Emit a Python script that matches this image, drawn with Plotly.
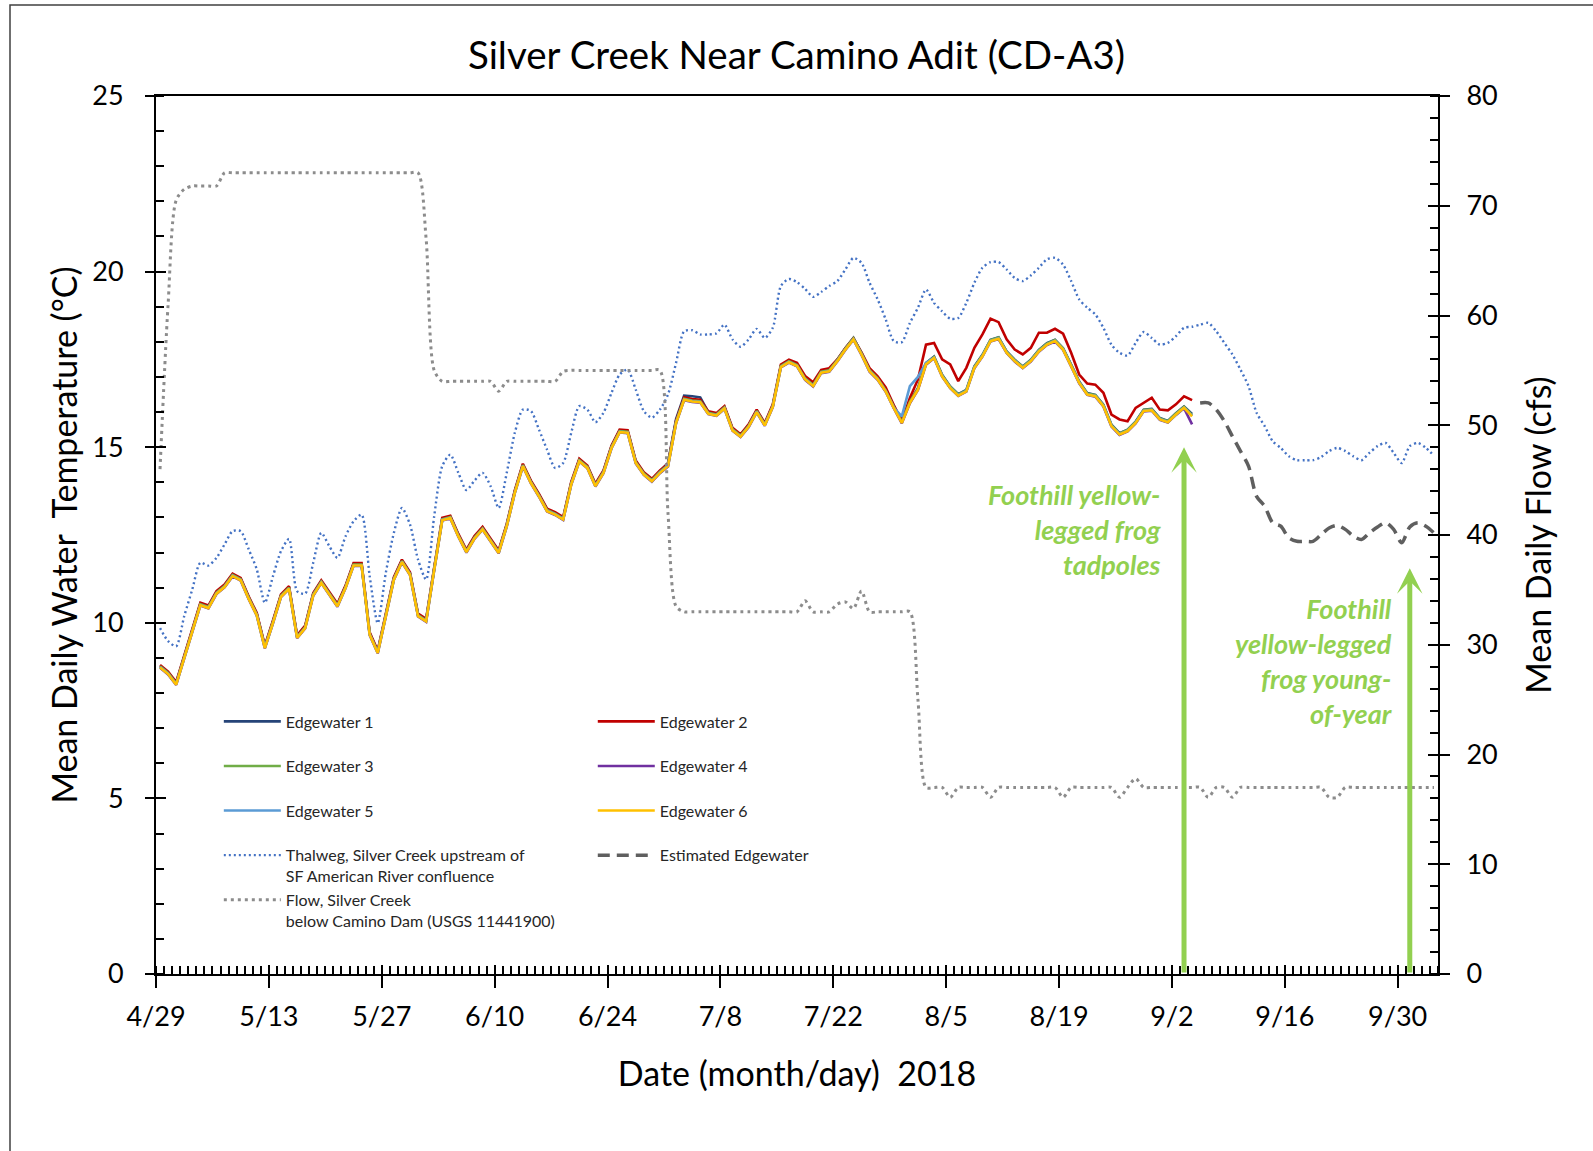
import pandas as pd
import plotly.graph_objects as go

# ---------------- data ----------------
# daily means, first value is 4/29/2018 (plotted at mid-day)
dates = pd.date_range("2018-04-29 12:00", periods=159, freq="D").strftime("%Y-%m-%d %H:%M").tolist()

edgewater_1 = [
    8.77, 8.58, 8.28, 9.04, 9.80, 10.54, 10.46, 10.87, 11.06, 11.37,
    11.25, 10.72, 10.25, 9.32, 10.03, 10.78, 11.01, 9.61, 9.89, 10.82,
    11.18, 10.84, 10.51, 11.03, 11.67, 11.67, 9.70, 9.18, 10.23, 11.27,
    11.77, 11.41, 10.23, 10.08, 11.54, 12.96, 13.02, 12.50, 12.05, 12.44,
    12.70, 12.36, 12.03, 12.79, 13.74, 14.50, 14.02, 13.64, 13.22, 13.12,
    12.98, 13.98, 14.64, 14.45, 13.93, 14.31, 15.02, 15.47, 15.45, 14.59,
    14.26, 14.07, 14.31, 14.55, 15.80, 16.47, 16.45, 16.42, 16.00, 15.94,
    16.14, 15.52, 15.34, 15.62, 16.04, 15.66, 16.19, 17.32, 17.46, 17.35,
    16.97, 16.78, 17.16, 17.20, 17.49, 17.82, 18.11, 17.68, 17.20, 16.97,
    16.63, 16.16, 15.73, 16.30, 16.68, 17.40, 17.58, 17.06, 16.73, 16.51,
    16.63, 17.30, 17.63, 18.06, 18.13, 17.73, 17.49, 17.30, 17.49, 17.77,
    17.96, 18.06, 17.82, 17.35, 16.87, 16.54, 16.49, 16.21, 15.64, 15.40,
    15.50, 15.73, 16.07, 16.09, 15.83, 15.75, 15.97, 16.16, 15.95]

edgewater_2 = [
    8.80, 8.61, 8.31, 9.07, 9.83, 10.57, 10.49, 10.90, 11.09, 11.40,
    11.28, 10.75, 10.28, 9.35, 10.06, 10.81, 11.04, 9.64, 9.92, 10.85,
    11.21, 10.87, 10.54, 11.06, 11.70, 11.70, 9.73, 9.21, 10.26, 11.30,
    11.80, 11.44, 10.26, 10.11, 11.57, 12.99, 13.05, 12.53, 12.08, 12.47,
    12.73, 12.39, 12.06, 12.82, 13.77, 14.53, 14.05, 13.67, 13.25, 13.15,
    13.01, 14.01, 14.67, 14.48, 13.96, 14.34, 15.05, 15.50, 15.48, 14.62,
    14.29, 14.10, 14.34, 14.53, 15.76, 16.42, 16.37, 16.35, 16.02, 15.97,
    16.17, 15.55, 15.37, 15.65, 16.07, 15.69, 16.22, 17.35, 17.49, 17.40,
    17.03, 16.85, 17.20, 17.25, 17.50, 17.82, 18.10, 17.70, 17.25, 17.02,
    16.70, 16.20, 15.75, 16.40, 16.93, 17.92, 17.97, 17.50, 17.36, 16.88,
    17.26, 17.83, 18.21, 18.66, 18.56, 18.07, 17.78, 17.64, 17.83, 18.26,
    18.26, 18.37, 18.23, 17.69, 17.07, 16.81, 16.78, 16.55, 15.93, 15.79,
    15.74, 16.12, 16.26, 16.41, 16.07, 16.05, 16.22, 16.45, 16.34]

edgewater_3 = [
    8.76, 8.57, 8.27, 9.03, 9.79, 10.53, 10.45, 10.86, 11.05, 11.36,
    11.24, 10.71, 10.24, 9.31, 10.02, 10.77, 11.00, 9.60, 9.88, 10.81,
    11.17, 10.83, 10.50, 11.02, 11.66, 11.66, 9.69, 9.17, 10.22, 11.26,
    11.76, 11.40, 10.22, 10.07, 11.53, 12.95, 13.01, 12.49, 12.04, 12.43,
    12.69, 12.35, 12.02, 12.78, 13.73, 14.49, 14.01, 13.63, 13.21, 13.11,
    12.97, 13.97, 14.63, 14.44, 13.92, 14.30, 15.01, 15.46, 15.44, 14.58,
    14.25, 14.06, 14.30, 14.49, 15.72, 16.38, 16.33, 16.31, 15.98, 15.93,
    16.13, 15.51, 15.33, 15.61, 16.03, 15.65, 16.18, 17.31, 17.45, 17.34,
    16.96, 16.77, 17.15, 17.19, 17.48, 17.81, 18.10, 17.67, 17.19, 16.96,
    16.62, 16.15, 15.72, 16.29, 16.67, 17.39, 17.57, 17.05, 16.72, 16.50,
    16.62, 17.29, 17.62, 18.05, 18.12, 17.72, 17.48, 17.29, 17.48, 17.76,
    17.95, 18.05, 17.81, 17.34, 16.86, 16.53, 16.48, 16.20, 15.63, 15.39,
    15.49, 15.72, 16.06, 16.08, 15.82, 15.74, 15.96, 16.15, 15.91]

edgewater_4 = [
    8.72, 8.53, 8.23, 8.99, 9.75, 10.49, 10.41, 10.82, 11.01, 11.32,
    11.20, 10.67, 10.20, 9.27, 9.98, 10.73, 10.96, 9.56, 9.84, 10.77,
    11.13, 10.79, 10.46, 10.98, 11.62, 11.62, 9.65, 9.13, 10.18, 11.22,
    11.72, 11.36, 10.18, 10.03, 11.49, 12.91, 12.97, 12.45, 12.00, 12.39,
    12.65, 12.31, 11.98, 12.74, 13.69, 14.45, 13.97, 13.59, 13.17, 13.07,
    12.93, 13.93, 14.59, 14.40, 13.88, 14.26, 14.97, 15.42, 15.40, 14.54,
    14.21, 14.02, 14.26, 14.45, 15.68, 16.34, 16.29, 16.27, 15.94, 15.89,
    16.09, 15.47, 15.29, 15.57, 15.99, 15.61, 16.14, 17.27, 17.41, 17.30,
    16.92, 16.73, 17.11, 17.15, 17.44, 17.77, 18.06, 17.63, 17.15, 16.92,
    16.58, 16.11, 15.68, 16.25, 16.63, 17.35, 17.53, 17.01, 16.68, 16.46,
    16.58, 17.25, 17.58, 18.01, 18.08, 17.68, 17.44, 17.25, 17.44, 17.72,
    17.91, 18.01, 17.77, 17.30, 16.82, 16.49, 16.44, 16.16, 15.59, 15.35,
    15.45, 15.68, 16.02, 16.04, 15.78, 15.70, 15.92, 16.11, 15.65]

edgewater_5 = [
    8.74, 8.55, 8.25, 9.01, 9.77, 10.51, 10.43, 10.84, 11.03, 11.34,
    11.22, 10.69, 10.22, 9.29, 10.00, 10.75, 10.98, 9.58, 9.86, 10.79,
    11.15, 10.81, 10.48, 11.00, 11.64, 11.64, 9.67, 9.15, 10.20, 11.24,
    11.74, 11.38, 10.20, 10.05, 11.51, 12.93, 12.99, 12.47, 12.02, 12.41,
    12.67, 12.33, 12.00, 12.76, 13.71, 14.47, 13.99, 13.61, 13.19, 13.09,
    12.95, 13.95, 14.61, 14.42, 13.90, 14.28, 14.99, 15.44, 15.42, 14.56,
    14.23, 14.04, 14.28, 14.47, 15.70, 16.36, 16.31, 16.29, 15.96, 15.91,
    16.11, 15.49, 15.31, 15.59, 16.01, 15.63, 16.16, 17.29, 17.43, 17.32,
    16.94, 16.75, 17.13, 17.17, 17.46, 17.79, 18.08, 17.65, 17.17, 16.94,
    16.60, 16.13, 15.88, 16.74, 17.00, 17.40, 17.55, 17.03, 16.70, 16.48,
    16.60, 17.27, 17.60, 18.03, 18.10, 17.70, 17.46, 17.27, 17.46, 17.74,
    17.93, 18.03, 17.79, 17.32, 16.84, 16.51, 16.46, 16.18, 15.61, 15.37,
    15.47, 15.70, 16.04, 16.06, 15.80, 15.72, 15.94, 16.13, 15.89]

edgewater_6 = [
    8.73, 8.54, 8.24, 9.00, 9.76, 10.50, 10.42, 10.83, 11.02, 11.33,
    11.21, 10.68, 10.21, 9.28, 9.99, 10.74, 10.97, 9.57, 9.85, 10.78,
    11.14, 10.80, 10.47, 10.99, 11.63, 11.63, 9.66, 9.14, 10.19, 11.23,
    11.73, 11.37, 10.19, 10.04, 11.50, 12.92, 12.98, 12.46, 12.01, 12.40,
    12.66, 12.32, 11.99, 12.75, 13.70, 14.46, 13.98, 13.60, 13.18, 13.08,
    12.94, 13.94, 14.60, 14.41, 13.89, 14.27, 14.98, 15.43, 15.41, 14.55,
    14.22, 14.03, 14.27, 14.46, 15.69, 16.35, 16.30, 16.28, 15.95, 15.90,
    16.10, 15.48, 15.30, 15.58, 16.00, 15.62, 16.15, 17.28, 17.42, 17.31,
    16.93, 16.74, 17.12, 17.16, 17.45, 17.78, 18.07, 17.64, 17.16, 16.93,
    16.59, 16.12, 15.69, 16.26, 16.64, 17.36, 17.54, 17.02, 16.69, 16.47,
    16.59, 17.26, 17.59, 18.02, 18.09, 17.69, 17.45, 17.26, 17.45, 17.73,
    17.92, 18.02, 17.78, 17.31, 16.83, 16.50, 16.45, 16.17, 15.60, 15.36,
    15.46, 15.69, 16.03, 16.05, 15.79, 15.71, 15.93, 16.12, 15.88]

# estimated edgewater, 9/7 .. 10/4
estimated_edgewater = [
    16.26, 16.26, 16.07, 15.74, 15.31, 14.89, 14.46, 13.60, 13.32, 12.85,
    12.75, 12.42, 12.32, 12.32, 12.32, 12.51, 12.70, 12.77, 12.66, 12.47,
    12.37, 12.56, 12.73, 12.85, 12.66, 12.28, 12.73, 12.85, 12.75, 12.56]

thalweg = [
    9.85, 9.48, 9.33, 10.19, 10.95, 11.71, 11.63, 11.85, 12.23, 12.61,
    12.61, 12.09, 11.52, 10.57, 11.32, 12.04, 12.39, 10.90, 10.83, 11.71,
    12.56, 12.18, 11.85, 12.46, 12.89, 13.08, 11.33, 9.99, 11.42, 12.56,
    13.27, 12.80, 11.80, 11.23, 13.03, 14.46, 14.79, 14.27, 13.78, 14.05,
    14.27, 13.89, 13.27, 14.27, 15.41, 16.07, 16.03, 15.50, 14.93, 14.41,
    14.55, 15.41, 16.17, 16.07, 15.71, 15.98, 16.55, 17.07, 17.21, 16.64,
    16.03, 15.84, 16.07, 16.50, 17.40, 18.30, 18.33, 18.21, 18.21, 18.24,
    18.49, 18.07, 17.86, 18.07, 18.37, 18.11, 18.40, 19.59, 19.79, 19.70,
    19.51, 19.28, 19.42, 19.59, 19.73, 20.06, 20.39, 20.25, 19.68, 19.21,
    18.64, 18.02, 17.99, 18.54, 18.97, 19.49, 19.11, 18.87, 18.66, 18.68,
    19.11, 19.68, 20.11, 20.27, 20.27, 20.06, 19.82, 19.73, 19.89, 20.11,
    20.35, 20.39, 20.20, 19.73, 19.21, 18.97, 18.78, 18.40, 17.92, 17.69,
    17.61, 17.97, 18.28, 18.11, 17.92, 17.97, 18.16, 18.40, 18.43, 18.49,
    18.54, 18.30, 17.97, 17.64, 17.21, 16.74, 15.98, 15.60, 15.17, 14.98,
    14.74, 14.63, 14.63, 14.63, 14.72, 14.89, 14.98, 14.89, 14.74, 14.63,
    14.84, 15.03, 15.12, 14.84, 14.55, 15.03, 15.12, 14.98, 14.76]

flow_cfs = [
    46, 61, 70.5, 71.5, 71.8, 71.8, 71.8, 71.8, 73, 73,
    73, 73, 73, 73, 73, 73, 73, 73, 73, 73,
    73, 73, 73, 73, 73, 73, 73, 73, 73, 73,
    73, 73, 73, 67, 55, 54, 54, 54, 54, 54,
    54, 54, 53.1, 54, 54, 54, 54, 54, 54, 54,
    54.9, 55, 55, 55, 55, 55, 55, 55, 55, 55,
    55, 55, 55, 42, 33.5, 33, 33, 33, 33, 33,
    33, 33, 33, 33, 33, 33, 33, 33, 33, 33,
    34, 33, 33, 33, 33.7, 33.9, 33.3, 34.9, 33, 33,
    33, 33, 33, 33, 25, 17, 17, 17, 16.1, 17,
    17, 17, 17, 16.1, 17, 17, 17, 17, 17, 17,
    17, 17, 16.1, 17, 17, 17, 17, 17, 17, 16.1,
    17, 17.8, 17, 17, 17, 17, 17, 17, 17, 17,
    16.1, 17, 17, 16.1, 17, 17, 17, 17, 17, 17,
    17, 17, 17, 17, 17, 16.1, 16.1, 17, 17, 17,
    17, 17, 17, 17, 17, 17, 17, 17, 17]

arrow_dates = ["2018-09-03 12:00", "2018-10-01 12:00"]
arrow_tops = [15.0, 11.55]
arrow_labels = ["Foothill yellow-<br>legged frog<br>tadpoles",
                "Foothill<br>yellow-legged<br>frog young-<br>of-year"]

x_range = ["2018-04-29", "2018-10-05"]

# ---------------- figure ----------------
FONT = "Lato"
fig = go.Figure()

n_ew = len(edgewater_1)
ew_specs = [
    ("Edgewater 1", edgewater_1, "#264478", "legend", 1),
    ("Edgewater 2", edgewater_2, "#C00000", "legend2", 1),
    ("Edgewater 3", edgewater_3, "#70AD47", "legend", 2),
    ("Edgewater 4", edgewater_4, "#7030A0", "legend2", 2),
    ("Edgewater 5", edgewater_5, "#5B9BD5", "legend", 3),
    ("Edgewater 6", edgewater_6, "#FFC000", "legend2", 3),
]
for name, vals, color, leg, rank in ew_specs:
    fig.add_trace(go.Scatter(
        x=dates[:len(vals)], y=vals, name=name + "<br> ", mode="lines",
        line=dict(color=color, width=2.6), legend=leg, legendrank=rank))

fig.add_trace(go.Scatter(
    x=dates[n_ew:n_ew + len(estimated_edgewater)], y=estimated_edgewater,
    name="Estimated Edgewater<br> ", mode="lines",
    line=dict(color="#5F5F5F", width=3.5, dash="12px,7px", shape="spline", smoothing=0.8),
    legend="legend2", legendrank=4))

fig.add_trace(go.Scatter(
    x=dates[:len(thalweg)], y=thalweg,
    name="Thalweg, Silver Creek upstream of<br>SF American River confluence", mode="lines",
    line=dict(color="#4472C4", width=2.4, dash="2px,3px", shape="spline", smoothing=0.7),
    legend="legend", legendrank=4))

fig.add_trace(go.Scatter(
    x=dates[:len(flow_cfs)], y=flow_cfs, yaxis="y2",
    name="Flow, Silver Creek<br>below Camino Dam (USGS 11441900)", mode="lines",
    line=dict(color="#8C8C8C", width=3, dash="3px,4px", shape="spline", smoothing=0.8),
    legend="legend", legendrank=5))

# empty helper traces so that the inner halves of the major ticks are drawn
fig.add_trace(go.Scatter(x=[None], y=[None], xaxis="x2", yaxis="y3", showlegend=False, hoverinfo="skip"))
fig.add_trace(go.Scatter(x=[None], y=[None], xaxis="x2", yaxis="y4", showlegend=False, hoverinfo="skip"))

# arrows + labels
for d, top in zip(arrow_dates, arrow_tops):
    fig.add_annotation(x=d, y=top, ax=d, ay=0, xref="x", yref="y", axref="x", ayref="y",
                       text="", showarrow=True, arrowhead=3, arrowsize=0.85,
                       arrowwidth=5, arrowcolor="#92D050")
label_pos = [(0.7855, 0.5062), (0.9662, 0.3563)]
for txt, (px, py) in zip(arrow_labels, label_pos):
    fig.add_annotation(x=px, y=py, xref="paper", yref="paper", xanchor="right", yanchor="middle",
                       align="right", showarrow=False, text=txt,
                       font=dict(family=FONT, size=27, color="#92D050", weight="bold", style="italic"))

tickfont = dict(family=FONT, size=27, color="black")
titlefont = dict(family=FONT, size=34, color="black")
DAY = 86400000

W, H = 1593, 1151
fig.update_layout(
    width=W, height=H,
    margin=dict(l=156, r=155, t=96, b=177, autoexpand=False),
    paper_bgcolor="white", plot_bgcolor="white",
    title=dict(text="Silver Creek Near Camino Adit (CD-A3)", x=0.5, xanchor="center",
               y=1 - 56 / H, yanchor="middle", yref="container",
               font=dict(family=FONT, size=38.5, color="black")),
    xaxis=dict(type="date", range=x_range, tick0="2018-04-29", dtick=14 * DAY,
               tickformat="%-m/%-d", ticks="outside", ticklen=12, tickwidth=2, tickcolor="black",
               showline=True, linewidth=2, linecolor="black", mirror=True, automargin=False,
               showgrid=False, zeroline=False, tickfont=tickfont, ticklabelstandoff=6,
               minor=dict(dtick=DAY, tick0="2018-04-29", ticks="inside", ticklen=8, tickwidth=1.5,
                          tickcolor="black", showgrid=False),
               title=dict(text="Date (month/day)\u00a0 2018", font=titlefont, standoff=31)),
    xaxis2=dict(type="date", range=x_range, overlaying="x", anchor="y", tick0="2018-04-29",
                dtick=14 * DAY, ticks="inside", ticklen=9, tickwidth=2, tickcolor="black",
                showticklabels=False, showline=False, showgrid=False, zeroline=False,
                automargin=False),
    yaxis=dict(range=[0, 25], dtick=5, ticks="outside", ticklen=9, tickwidth=2, tickcolor="black",
               showline=True, linewidth=2, linecolor="black", showgrid=False, zeroline=False,
               tickfont=tickfont, ticklabelstandoff=16, automargin=False,
               minor=dict(dtick=1, ticks="inside", ticklen=8, tickwidth=1.5, tickcolor="black",
                          showgrid=False),
               title=dict(text="Mean Daily Water\u00a0 Temperature (°C)", font=titlefont, standoff=4)),
    yaxis2=dict(range=[0, 80], dtick=10, overlaying="y", side="right", anchor="x",
                ticks="outside", ticklen=10, tickwidth=2, tickcolor="black",
                showline=True, linewidth=2, linecolor="black", showgrid=False, zeroline=False,
                tickfont=tickfont, ticklabelstandoff=11, automargin=False,
                minor=dict(dtick=2, ticks="inside", ticklen=8, tickwidth=1.5, tickcolor="black",
                           showgrid=False),
                title=dict(text="Mean Daily Flow (cfs)", font=titlefont, standoff=30)),
    yaxis3=dict(range=[0, 25], dtick=5, overlaying="y", anchor="x2", ticks="inside", ticklen=10,
                tickwidth=2, tickcolor="black", showticklabels=False, showline=False,
                showgrid=False, zeroline=False, automargin=False),
    yaxis4=dict(range=[0, 80], dtick=10, overlaying="y", side="right", anchor="x2",
                ticks="inside", ticklen=10, tickwidth=2, tickcolor="black",
                showticklabels=False, showline=False, showgrid=False, zeroline=False,
                automargin=False),
    legend=dict(x=0.049, y=0.307, xanchor="left", yanchor="top", bgcolor="rgba(0,0,0,0)",
                font=dict(family=FONT, size=16, color="#262626"), valign="top",
                itemwidth=57, tracegroupgap=0, traceorder="normal"),
    legend2=dict(x=0.3407, y=0.307, xanchor="left", yanchor="top", bgcolor="rgba(0,0,0,0)",
                 font=dict(family=FONT, size=16, color="#262626"), valign="top",
                 itemwidth=57, tracegroupgap=0, traceorder="normal"),
    showlegend=True,
)

# outer chart border (only its left and top edges fall inside the page)
fig.add_shape(type="rect", xref="paper", yref="paper",
              x0=(10 - 156) / 1282, x1=1.3, y0=-0.4, y1=(974 - 5) / 878,
              line=dict(color="#404040", width=1.5), layer="below")

# remove the browser's default 8px body margin so the figure sits at the page origin
fig.write_html("out.html", config={"displayModeBar": False},
               post_script="document.body.style.margin='0px';")
